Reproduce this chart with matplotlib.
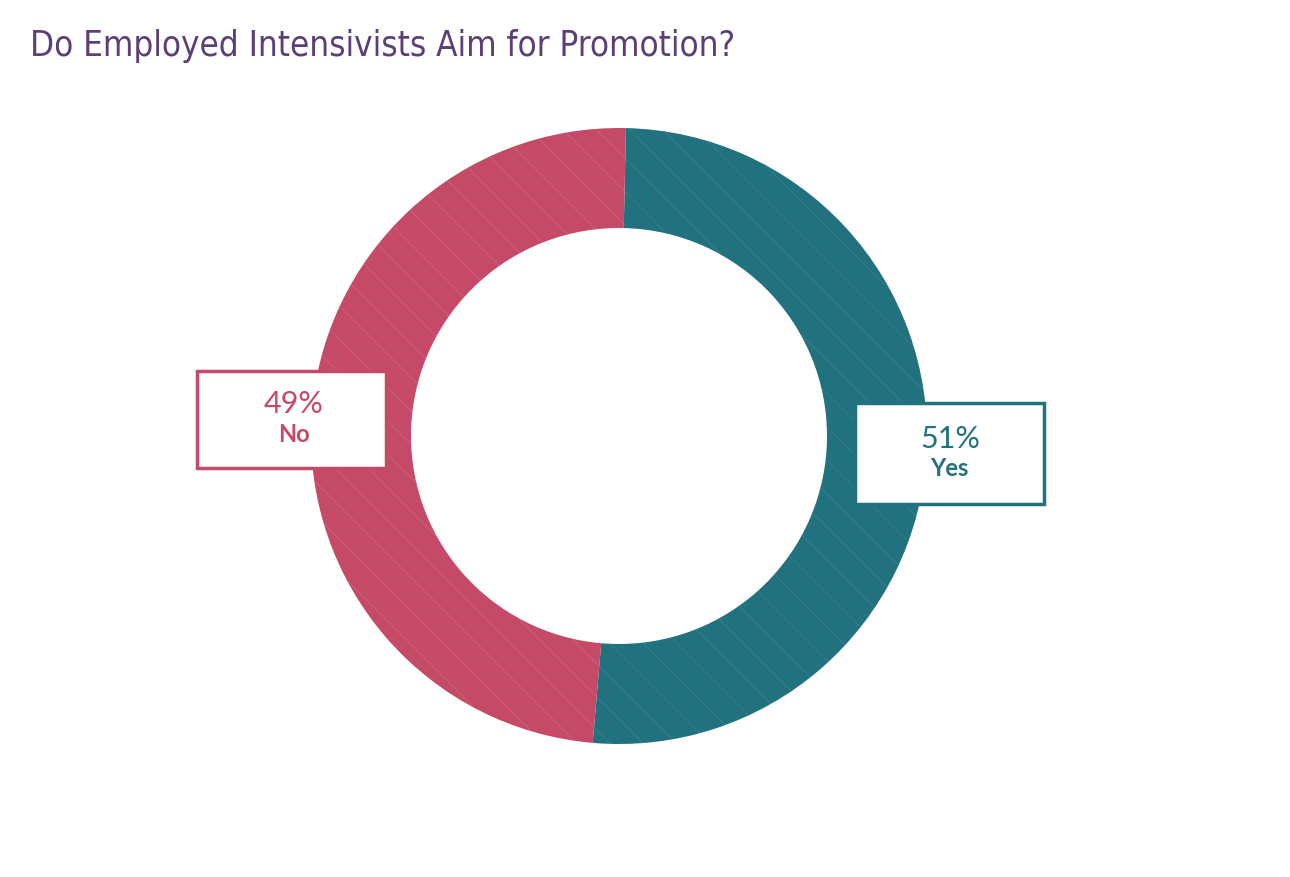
import matplotlib
matplotlib.use('Agg')
import matplotlib.pyplot as plt
from matplotlib.patches import Rectangle

labels = ['Yes', 'No']
shares = [51, 49]
colors = ['#21717e', '#c44a68']
hatch_colors = ['#3a8490', '#cf6580']

TITLE = 'Do Employed Intensivists Aim for Promotion?'
TITLE_COLOR = '#5b3f75'

plt.rcParams['hatch.linewidth'] = 0.5

fig = plt.figure(figsize=(12.9, 8.78), dpi=100)
ax = fig.add_axes([0, 0, 1, 1])

wedges, _ = ax.pie(shares, colors=colors, startangle=88.7, counterclock=False,
                   center=(619, 441), radius=308,
                   wedgeprops=dict(width=100, linewidth=0))
for w, hc in zip(wedges, hatch_colors):
    w.set_hatch('\\')
    w.set_edgecolor(hc)
    w.set_linewidth(0)

# pie() resets the limits, so set the pixel frame afterwards
ax.set_xlim(0, 1290)
ax.set_ylim(0, 878)
ax.set_aspect('equal')
ax.axis('off')

# callout boxes: (x0, y0 from top, w, h), text centres
boxes = {
    'No': dict(box=(197, 372, 189, 97), pct=(294, 404), lab=(294, 434)),
    'Yes': dict(box=(855, 404, 189, 101), pct=(950, 439), lab=(949, 468)),
}
for lab, pct, col in zip(labels, shares, colors):
    b = boxes[lab]
    x0, y0, bw, bh = b['box']
    ax.add_patch(Rectangle((x0, 878 - y0 - bh), bw, bh, facecolor='white',
                           edgecolor=col, linewidth=2.5, zorder=5))
    ax.text(b['pct'][0], 878 - b['pct'][1], f'{pct}%', ha='center', va='center',
            fontsize=22, color=col, family='Lato', fontweight='normal', zorder=6)
    ax.text(b['lab'][0], 878 - b['lab'][1], lab, ha='center', va='center',
            fontsize=17, color=col, family='Lato', fontweight='bold', zorder=6)

fig.text(30 / 1290, 1 - 46 / 878, TITLE, ha='left', va='center', fontsize=25,
         color=TITLE_COLOR, family='DejaVu Sans', fontstretch='condensed')

fig.savefig('out.png', dpi=100, facecolor='white')
